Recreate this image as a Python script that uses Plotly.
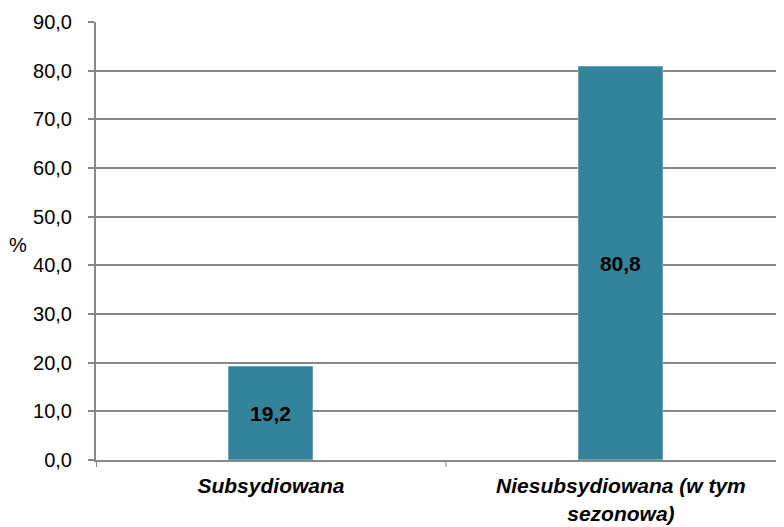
import plotly.graph_objects as go

categories = ["Subsydiowana", "Niesubsydiowana (w tym<br>sezonowa)"]
values = [19.2, 80.8]
y_ticks = [0, 10, 20, 30, 40, 50, 60, 70, 80, 90]

fig = go.Figure()
fig.add_trace(go.Bar(
    x=[0, 1],
    y=values,
    width=0.24,
    marker=dict(color="#33849B", line=dict(color="#5FA3B6", width=1)),
    texttemplate="<b>%{y:.1f}</b>",
    textposition="inside",
    insidetextanchor="middle",
    textangle=0,
    textfont=dict(family="Liberation Sans, Arial", size=21, color="#000000"),
    hoverinfo="skip",
))

# page body has an 8px default margin; compensate so the plot area lands where the reference has it
fig.update_layout(
    width=776, height=519,
    margin=dict(l=88, r=0, t=14, b=67),
    plot_bgcolor="white", paper_bgcolor="white",
    separators=", ",
    showlegend=False,
    font=dict(family="Liberation Sans, Arial", size=20, color="#000000"),
    bargap=0,
)
fig.update_xaxes(
    type="linear",
    range=[-0.5, 1.466],
    tickvals=[0, 1],
    ticktext=["<b><i>" + c.replace("<br>", "</i></b><br><b><i>") + "</i></b>" for c in categories],
    ticks="",
    showgrid=False,
    zeroline=False,
    automargin=False,
    ticklabelstandoff=6,
    showline=True, linecolor="#878787", linewidth=2,
    tickfont=dict(size=21, color="#000000"),
)
fig.add_shape(type="line", xref="x", yref="paper", x0=0.5, x1=0.5, y0=0, y1=-0.016,
              line=dict(color="#878787", width=1))
fig.add_shape(type="line", xref="x", yref="paper", x0=-0.5, x1=-0.5, y0=0, y1=-0.016,
              line=dict(color="#878787", width=2))
fig.update_yaxes(
    range=[0, 90],
    tickvals=y_ticks,
    tickformat=".1f",
    ticks="outside", ticklen=6, tickcolor="#878787", tickwidth=2,
    showgrid=True, gridcolor="#878787", gridwidth=2,
    zeroline=False,
    automargin=False,
    ticklabelstandoff=12,
    showline=True, linecolor="#878787", linewidth=2,
    tickfont=dict(size=20, color="#000000"),
)
fig.add_annotation(text="%", xref="paper", yref="paper", x=-0.1134, y=0.491,
                   showarrow=False, font=dict(size=20, color="#000000"),
                   xanchor="center", yanchor="middle")

fig.write_html("out.html")
